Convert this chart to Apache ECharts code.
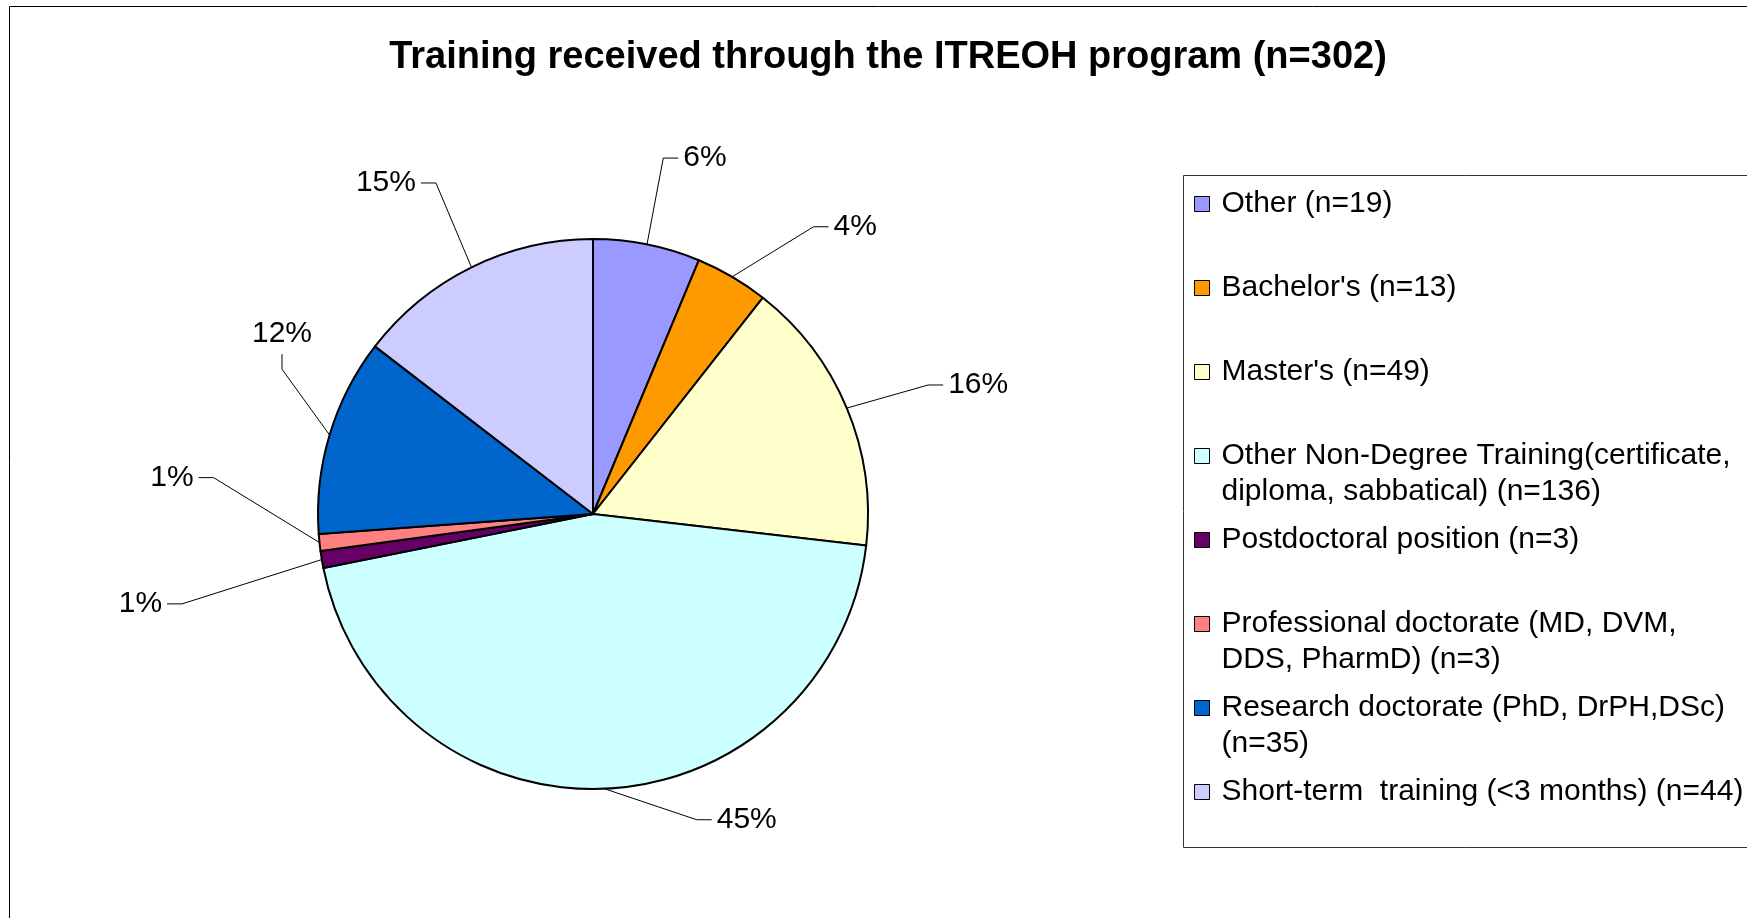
<!DOCTYPE html>
<html><head><meta charset="utf-8">
<script src="https://cdn.jsdelivr.net/npm/echarts@6/dist/echarts.min.js"></script>
<style>html,body{margin:0;padding:0;background:#fff}#c{width:1747px;height:918px}</style>
</head><body><div id="c"></div>
<script>
// ---- data ----
const categories = [
  "Other (n=19)",
  "Bachelor's (n=13)",
  "Master's (n=49)",
  "Other Non-Degree Training(certificate,\ndiploma, sabbatical) (n=136)",
  "Postdoctoral position (n=3)",
  "Professional doctorate (MD, DVM,\nDDS, PharmD) (n=3)",
  "Research doctorate (PhD, DrPH,DSc)\n(n=35)",
  "Short-term  training (<3 months) (n=44)"
];
const counts = [19, 13, 49, 136, 3, 3, 35, 44];
const titleText = 'Training received through the ITREOH program (n=302)';

// ---- styles ----
const palette = ['#9999FF', '#FF9900', '#FFFFCC', '#CCFFFF', '#660066', '#FF8080', '#0066CC', '#CCCCFF'];
const lineLen1 = [88, 58, 60, 31, 20, 20, 10, 94];
const lineLen2 = [15, 68, 42, 107, 136, 102, 5, 10];
// label nudges (dx, dy) where a radial leader cannot reach Excel's placement
const labelShift = {4: [0, 41], 5: [0, -67], 6: [1, -98]};
const labelAbove = {6: true};
const FONT = 'Liberation Sans, Arial, sans-serif';
const LH = 36;

const chart = echarts.init(document.getElementById('c'), null, {renderer: 'canvas'});

const legends = categories.map((name, i) => {
  const lines = name.split('\n').length;
  const yc = 204 + 84 * i;
  return {
    data: [name],
    orient: 'vertical',
    left: 1194,
    top: lines === 1 ? yc - LH / 2 : yc - 1.5 * LH,
    padding: 0,
    itemWidth: 15,
    itemHeight: 15,
    icon: 'rect',
    selectedMode: false,
    formatter: n => (n.indexOf('\n') >= 0 ? ' \n' + n : n),
    itemStyle: {borderColor: '#000', borderWidth: 1},
    textStyle: {
      fontFamily: FONT, fontSize: 30, color: '#000', lineHeight: LH,
      padding: [0, 0, 0, 7]
    }
  };
});

chart.setOption({
  backgroundColor: '#fff',
  animation: false,
  title: {
    text: titleText,
    left: 888, top: 39, textAlign: 'center', padding: 0,
    textStyle: {fontFamily: FONT, fontWeight: 'bold', fontSize: 38, color: '#000'}
  },
  legend: legends,
  graphic: [
    {type: 'polyline', silent: true, shape: {points: [[9.5, 918], [9.5, 6.5], [1747, 6.5]]},
     style: {stroke: '#000', lineWidth: 1, fill: null}},
    {type: 'rect', silent: true, shape: {x: 1183.5, y: 175.5, width: 700, height: 672},
     style: {stroke: '#333', lineWidth: 1, fill: null}}
  ],
  series: [{
    type: 'pie',
    center: [593, 514],
    radius: 275,
    startAngle: 90,
    clockwise: true,
    avoidLabelOverlap: false,
    minShowLabelAngle: 0,
    itemStyle: {borderColor: '#000', borderWidth: 2},
    emphasis: {disabled: true},
    label: {
      show: true, position: 'outside',
      formatter: p => Math.round(p.percent) + '%',
      fontFamily: FONT, fontSize: 30, color: '#000',
      distanceToLabelLine: 4
    },
    labelLine: {show: true, lineStyle: {color: '#000', width: 1}},
    labelLayout: function (params) {
      const i = params.dataIndex;
      const s = labelShift[i] || [0, 0];
      const r = params.labelRect;
      const pts = params.labelLinePoints;
      if (!pts) return {dx: s[0], dy: s[1]};
      const p0 = pts[0];
      const x = r.x + s[0], y = r.y + s[1], w = r.width, h = r.height;
      const cy = y + h / 2;
      const gap = 5, seg = 15;
      let end, elbow;
      if (labelAbove[i]) {
        end = [x + w / 2, y + h + gap];
        elbow = [end[0], end[1] + seg];
      } else if (x + w / 2 < p0[0]) {
        end = [x + w + gap, cy];
        elbow = [end[0] + seg, cy];
      } else {
        end = [x - gap, cy];
        elbow = [end[0] - seg, cy];
      }
      return {dx: s[0], dy: s[1], labelLinePoints: [p0, elbow, end]};
    },
    data: counts.map((v, i) => ({
      name: categories[i], value: v,
      itemStyle: {color: palette[i]},
      labelLine: {length: lineLen1[i], length2: lineLen2[i]}
    }))
  }]
});
</script>
</body></html>
